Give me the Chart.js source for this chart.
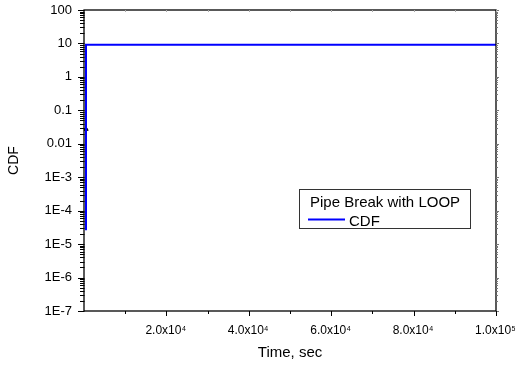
<!DOCTYPE html>
<html lang="en">
<head>
    <meta charset="utf-8">
    <title>CDF - Pipe Break with LOOP</title>
    <script src="https://cdn.jsdelivr.net/npm/chart.js"></script>
    <style>
        body { margin: 0; background: white; }
        #cdfChart { display: block; }
    </style>
</head>
<body>
    <canvas id="cdfChart" width="518" height="369"></canvas>
    <script>
        // CDF curve (time in seconds, cumulative value)
        const cdfTime  = [485, 485, 100000];
        const cdfValue = [2.6e-5, 9.2, 9.2];
        // small black marker sitting on the rising edge
        const markTime  = [485];
        const markValue = [0.0275];

        // axis labels
        const yTickValues = [100, 10, 1, 0.1, 0.01, 1e-3, 1e-4, 1e-5, 1e-6, 1e-7];
        const yTickLabels = ['100', '10', '1', '0.1', '0.01', '1E-3', '1E-4', '1E-5', '1E-6', '1E-7'];
        const xTickValues = [20000, 40000, 60000, 80000, 100000];
        const xTickMant   = ['2.0', '4.0', '6.0', '8.0', '1.0'];
        const xTickExp    = ['4', '4', '4', '4', '5'];
        const legendTitle = 'Pipe Break with LOOP';

        const FONT = '"Liberation Sans", Arial, sans-serif';

        // 1..9 x 10^d for every decade on the axis
        function logTickValues(minExp, maxExp) {
            const out = [];
            for (let d = minExp; d < maxExp; d++) {
                for (let k = 1; k <= 9; k++) out.push({ v: k * Math.pow(10, d), major: k === 1 });
            }
            out.push({ v: Math.pow(10, maxExp), major: true });
            return out;
        }

        // frame, tick marks, x labels with exponents and the boxed legend
        const framePlugin = {
            id: 'frame',
            afterDraw(chart) {
                const ctx = chart.ctx;
                const a = chart.chartArea;
                const xs = chart.scales.x, ys = chart.scales.y;
                ctx.save();

                // plot frame
                ctx.strokeStyle = '#000';
                ctx.lineWidth = 1.3;
                ctx.strokeRect(a.left, a.top, a.right - a.left, a.bottom - a.top);

                // y ticks: outward on the left, short marks on the right
                ctx.lineWidth = 1;
                logTickValues(-7, 2).forEach(t => {
                    const y = Math.round(ys.getPixelForValue(t.v)) + 0.5;
                    ctx.strokeStyle = '#000';
                    ctx.beginPath();
                    ctx.moveTo(a.left - (t.major ? 6 : 4), y);
                    ctx.lineTo(a.left + 0.5, y);
                    ctx.stroke();
                    ctx.strokeStyle = '#777';
                    ctx.beginPath();
                    ctx.moveTo(a.right, y);
                    ctx.lineTo(a.right + (t.major ? 3 : 2), y);
                    ctx.stroke();
                });

                // x ticks: outward at the bottom, faint inward at the top
                for (let v = 10000; v <= 100000; v += 10000) {
                    const x = Math.round(xs.getPixelForValue(v)) + 0.5;
                    const major = (v % 20000) === 0;
                    ctx.strokeStyle = '#000';
                    ctx.beginPath();
                    ctx.moveTo(x, a.bottom);
                    ctx.lineTo(x, a.bottom + (major ? 5 : 3));
                    ctx.stroke();
                    ctx.strokeStyle = '#aaa';
                    ctx.beginPath();
                    ctx.moveTo(x, a.top);
                    ctx.lineTo(x, a.top + 2);
                    ctx.stroke();
                }

                // x tick labels, e.g. 2.0x10^4
                ctx.fillStyle = '#000';
                ctx.textBaseline = 'alphabetic';
                ctx.textAlign = 'left';
                xTickValues.forEach((v, i) => {
                    const px = xs.getPixelForValue(v);
                    const base = xTickMant[i] + 'x10';
                    ctx.font = '12px ' + FONT;
                    const bw = ctx.measureText(base).width;
                    ctx.font = '7px ' + FONT;
                    const ew = ctx.measureText(xTickExp[i]).width;
                    const x0 = px - (bw + ew) / 2 - 1;
                    ctx.font = '12px ' + FONT;
                    ctx.fillText(base, x0, 334);
                    ctx.font = '7px ' + FONT;
                    ctx.fillText(xTickExp[i], x0 + bw + 0.5, 331);
                });

                // legend box
                const ds = chart.data.datasets[0];
                const bx = 299.5, by = 189.5, bw = 171, bh = 39;
                ctx.fillStyle = '#fff';
                ctx.fillRect(bx, by, bw, bh);
                ctx.strokeStyle = '#333';
                ctx.lineWidth = 1;
                ctx.strokeRect(bx, by, bw, bh);
                ctx.fillStyle = '#000';
                ctx.font = '15px ' + FONT;
                ctx.fillText(legendTitle, 310, 206.5);
                ctx.strokeStyle = ds.borderColor;
                ctx.lineWidth = 2;
                ctx.beginPath();
                ctx.moveTo(308, 219.5);
                ctx.lineTo(345, 219.5);
                ctx.stroke();
                ctx.fillText(ds.label, 349, 225.5);

                ctx.restore();
            }
        };

        const ctx = document.getElementById('cdfChart').getContext('2d');
        const chart = new Chart(ctx, {
            type: 'line',
            data: {
                datasets: [{
                    label: 'CDF',
                    data: cdfTime.map((t, i) => ({ x: t, y: cdfValue[i] })),
                    borderColor: 'rgb(0,0,255)',
                    borderWidth: 2,
                    pointRadius: 0,
                    tension: 0,
                    fill: false
                }, {
                    label: 'marker',
                    data: markTime.map((t, i) => ({ x: t, y: markValue[i] })),
                    showLine: false,
                    pointStyle: 'triangle',
                    pointRadius: 2.5,
                    pointBackgroundColor: '#000',
                    pointBorderColor: '#000',
                    pointBorderWidth: 1
                }]
            },
            options: {
                responsive: false,
                animation: false,
                devicePixelRatio: 1,
                layout: { padding: { top: 10, right: 22, left: 0, bottom: 0 } },
                plugins: {
                    legend: { display: false },
                    tooltip: { enabled: false }
                },
                scales: {
                    x: {
                        type: 'linear',
                        min: 0,
                        max: 100000,
                        ticks: { display: false, stepSize: 10000 },
                        grid: { display: false },
                        border: { display: false },
                        title: {
                            display: true,
                            text: 'Time, sec',
                            color: '#000',
                            font: { family: FONT, size: 15 },
                            padding: { top: 0, bottom: 7 }
                        },
                        afterFit: s => { s.height = 58; s.paddingLeft = 0; s.paddingRight = 0; }
                    },
                    y: {
                        type: 'logarithmic',
                        min: 1e-7,
                        max: 100,
                        ticks: {
                            autoSkip: false,
                            padding: 6,
                            color: '#000',
                            font: { family: FONT, size: 13 },
                            callback: v => {
                                const i = yTickValues.findIndex(t => Math.abs(Math.log10(t) - Math.log10(v)) < 1e-6);
                                return i >= 0 ? yTickLabels[i] : '';
                            }
                        },
                        grid: {
                            drawOnChartArea: false,
                            drawTicks: true,
                            tickLength: 6,
                            color: 'rgba(0,0,0,0)',
                            tickColor: 'rgba(0,0,0,0)'
                        },
                        border: { display: false },
                        title: {
                            display: true,
                            text: 'CDF',
                            color: '#000',
                            font: { family: FONT, size: 14 },
                            padding: { top: 6, bottom: 0 }
                        },
                        afterFit: s => { s.width = 84; s.paddingTop = 0; s.paddingBottom = 0; }
                    }
                }
            },
            plugins: [framePlugin]
        });
    </script>
</body>
</html>
